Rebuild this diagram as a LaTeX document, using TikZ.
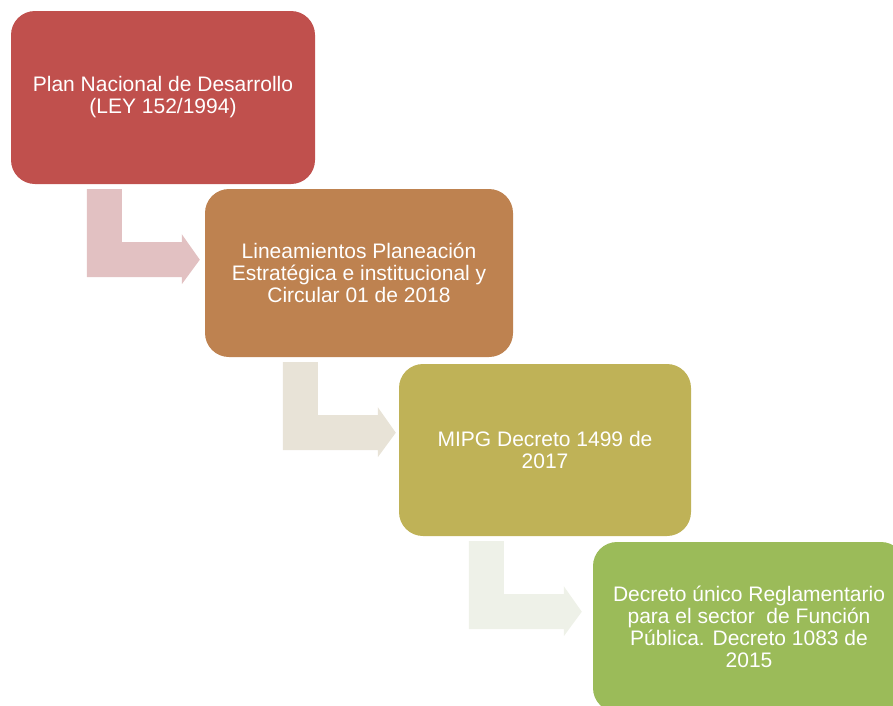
\documentclass[tikz,border=0pt]{standalone}
\usepackage{fontspec}
\setmainfont{Liberation Sans}
\usetikzlibrary{calc}

\definecolor{rojo}{HTML}{C0504D}
\definecolor{cobre}{HTML}{BE8250}
\definecolor{oliva}{HTML}{BFB257}
\definecolor{verde}{HTML}{9BBB59}
\definecolor{rojoclaro}{HTML}{E2C1C2}
\definecolor{cobreclaro}{HTML}{E8E3D7}
\definecolor{verdeclaro}{HTML}{EEF1E8}

\tikzset{
  paso/.style={rounded corners=24pt, text=white, align=center, inner sep=0pt,
    font=\fontsize{21}{22}\selectfont}
}

% flecha acodada: baja y luego gira a la derecha
\newcommand{\flechaL}[2]{%
  \fill[#2] (#1) -- ++(35,0) -- ++(0,53) -- ++(60,0) -- ++(0,-8)
    -- ++(18,25.5) -- ++(-18,24.5) -- ++(0,-7) -- ++(-95,0) -- cycle;}

\begin{document}
\begin{tikzpicture}[x=1pt,y=-1pt]
\useasboundingbox (0,0) rectangle (893,705);
\clip (0,0) rectangle (893,705);

\node[paso, fill=rojo, minimum width=304pt, minimum height=173pt] (plan) at (163,97.5)
  {Plan Nacional de Desarrollo\\(LEY 152/1994)};
\node[paso, fill=cobre, minimum width=308pt, minimum height=168pt] (linea) at (359,273)
  {Lineamientos Planeación\\Estratégica e institucional y\\Circular 01 de 2018};
\node[paso, fill=oliva, minimum width=292pt, minimum height=172pt] (mipg) at (545,450)
  {MIPG Decreto 1499 de\\2017};
\node[paso, fill=verde, minimum width=312pt, minimum height=170pt] (decreto) at (749,627)
  {Decreto único Reglamentario\\para el sector \ de Función\\Pública. Decreto 1083 de\\2015};

\coordinate (f1) at ($(plan.south west)+(76,5)$);
\coordinate (f2) at ($(linea.south west)+(78,5)$);
\coordinate (f3) at ($(mipg.south west)+(70,5)$);
\flechaL{f1}{rojoclaro}
\flechaL{f2}{cobreclaro}
\flechaL{f3}{verdeclaro}
\end{tikzpicture}
\end{document}
